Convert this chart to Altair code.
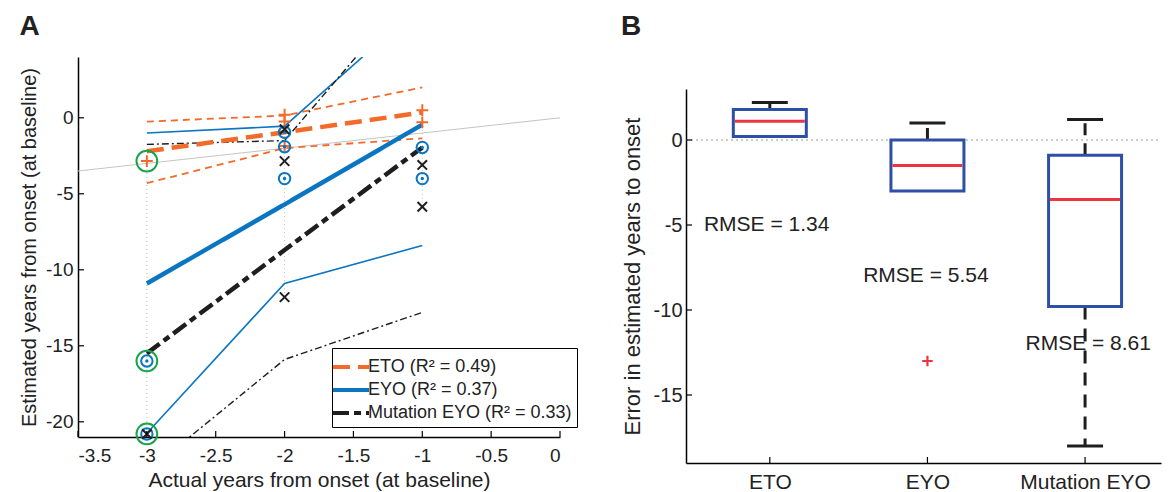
import altair as alt
import pandas as pd

FONT = "Liberation Sans"
ORANGE = "#F26B2A"
BLUE = "#0A76C2"
BLACK = "#1E1E1E"
GREEN = "#1BA34A"
BOX_BLUE = "#2D4FA5"
MED_RED = "#EE3340"
GRAY = "#C4C4C4"
TEXT = "#222222"

# ---------------- Panel A data ----------------
years = [-3, -2, -1]
eto_fit = [-2.2, -0.95, 0.35]
eto_hi = [-0.25, 0.15, 2.0]
eto_lo = [-4.3, -2.0, -1.35]
eyo_fit = [-10.9, -5.7, -0.45]
eyo_hi = [-1.0, -0.55, 7.5]
eyo_lo = [-20.75, -10.9, -8.4]
mut_fit = [-15.5, -8.7, -1.95]
mut_hi = [-1.75, -1.5, 9.1]
mut_lo = [-23.3, -15.9, -12.8]

eto_pt_x = [-3, -2, -2, -2, -1, -1]
eto_pt_y = [-2.85, 0.2, -0.25, -1.85, 0.5, -0.3]
eyo_pt_x = [-3, -3, -2, -2, -2, -1, -1]
eyo_pt_y = [-16.0, -20.8, -0.95, -1.9, -4.0, -1.95, -4.0]
mut_pt_x = [-3, -2, -2, -2, -1, -1]
mut_pt_y = [-20.8, -0.75, -2.85, -11.8, -3.1, -5.85]
hl_x = [-3, -3, -3]
hl_y = [-2.85, -16.0, -20.8]

identity = [-3.5, 0]

legend_labels = ["ETO (R\u00b2 = 0.49)", "EYO (R\u00b2 = 0.37)", "Mutation EYO (R\u00b2 = 0.33)"]
a_xticks = [-3.5, -3, -2.5, -2, -1.5, -1, -0.5, 0]
a_yticks = [-20, -15, -10, -5, 0]

# ---------------- Panel B data ----------------
b_cats = ["ETO", "EYO", "Mutation EYO"]
b_pos = [1, 2, 3]
b_q1 = [0.2, -3.0, -9.8]
b_q3 = [1.8, 0.0, -0.9]
b_med = [1.1, -1.5, -3.5]
b_whi = [2.2, 1.0, 1.2]
b_wlo = [0.2, -3.0, -18.0]
b_out_x = [2]
b_out_y = [-13.0]
rmse_text = ["RMSE = 1.34", "RMSE = 5.54", "RMSE = 8.61"]
rmse_x = [0.98, 1.99, 3.02]
rmse_y = [-5.0, -8.0, -12.0]
b_yticks = [-15, -10, -5, 0]

# ---------------- Panel A ----------------
WA, HA = 482, 380
xA_scale = alt.Scale(domain=[-3.5, 0], nice=False, zero=False)
yA_scale = alt.Scale(domain=[-21, 4], nice=False, zero=False)
axA_x = alt.Axis(values=a_xticks, labelExpr="'' + datum.value", labelFontSize=19,
                 labelPadding=9, titleFontSize=21, titlePadding=4)
axA_y = alt.Axis(values=a_yticks, labelExpr="'' + datum.value", labelFontSize=19,
                 labelPadding=5, titleFontSize=20, titlePadding=6)
TX_A = "Actual years from onset (at baseline)"
TY_A = "Estimated years from onset (at baseline)"


def XA(f):
    return alt.X(f, type="quantitative", scale=xA_scale, axis=axA_x, title=TX_A)


def YA(f):
    return alt.Y(f, type="quantitative", scale=yA_scale, axis=axA_y, title=TY_A)


def lines_df(series):
    rows = []
    for name, vals in series:
        for x, y in zip(years, vals):
            rows.append({"x": x, "y": y, "line": name})
    return pd.DataFrame(rows)


ident_df = pd.DataFrame({"x": identity, "y": identity})
ident = alt.Chart(ident_df).mark_line(color=GRAY, strokeWidth=1).encode(x=XA("x"), y=YA("y"))

all_pts = pd.DataFrame({"x": eto_pt_x + eyo_pt_x + mut_pt_x,
                        "y": eto_pt_y + eyo_pt_y + mut_pt_y})
span = all_pts.groupby("x")["y"].agg(["min", "max"]).reset_index()
guides = alt.Chart(span).mark_rule(color="#BBBBBB", strokeWidth=1, strokeDash=[1, 3]).encode(
    x=XA("x"), y=YA("min"), y2="max")

thin_eto = alt.Chart(lines_df([("hi", eto_hi), ("lo", eto_lo)])).mark_line(
    color=ORANGE, strokeWidth=1.8, strokeDash=[7, 5], clip=True).encode(
    x=XA("x"), y=YA("y"), detail="line:N")
thin_eyo = alt.Chart(lines_df([("hi", eyo_hi), ("lo", eyo_lo)])).mark_line(
    color=BLUE, strokeWidth=1.6, clip=True).encode(x=XA("x"), y=YA("y"), detail="line:N")
thin_mut = alt.Chart(lines_df([("hi", mut_hi), ("lo", mut_lo)])).mark_line(
    color=BLACK, strokeWidth=1.4, strokeDash=[7, 3, 2, 3], clip=True).encode(
    x=XA("x"), y=YA("y"), detail="line:N")

fit_df = lines_df([(legend_labels[0], eto_fit), (legend_labels[1], eyo_fit),
                   (legend_labels[2], mut_fit)])
leg = alt.Legend(title=None, orient="none", legendX=254, legendY=291,
                 strokeColor="black", fillColor="white", padding=5,
                 symbolType="M-1.5,0H1.5", symbolSize=576, symbolStrokeWidth=4,
                 labelFontSize=18, labelFont=FONT, labelColor=TEXT, labelLimit=0,
                 rowPadding=0, labelOffset=3)
fits = alt.Chart(fit_df).mark_line(strokeWidth=4.5, clip=True).encode(
    x=XA("x"), y=YA("y"),
    color=alt.Color("line:N", scale=alt.Scale(domain=legend_labels, range=[ORANGE, BLUE, BLACK]),
                    legend=leg),
    strokeDash=alt.StrokeDash("line:N", scale=alt.Scale(domain=legend_labels,
                                                         range=[[17, 8], [1, 0], [16, 5, 7, 5]]),
                              legend=leg),
)

PLUS = "M-1,0H1M0,-1V1"
CROSS = "M-1,-1L1,1M-1,1L1,-1"
eto_m = alt.Chart(pd.DataFrame({"x": eto_pt_x, "y": eto_pt_y})).mark_point(
    shape=PLUS, filled=False, color=ORANGE, strokeWidth=2, size=140, opacity=1).encode(
    x=XA("x"), y=YA("y"))
eyo_df = pd.DataFrame({"x": eyo_pt_x, "y": eyo_pt_y})
eyo_m = alt.Chart(eyo_df).mark_point(
    shape="circle", filled=False, color=BLUE, strokeWidth=2, size=130, opacity=1).encode(
    x=XA("x"), y=YA("y"))
eyo_d = alt.Chart(eyo_df).mark_point(
    shape="circle", filled=True, color=BLUE, size=12, opacity=1).encode(x=XA("x"), y=YA("y"))
mut_m = alt.Chart(pd.DataFrame({"x": mut_pt_x, "y": mut_pt_y})).mark_point(
    shape=CROSS, filled=False, color=BLACK, strokeWidth=2, size=90, opacity=1).encode(
    x=XA("x"), y=YA("y"))
hl_m = alt.Chart(pd.DataFrame({"x": hl_x, "y": hl_y})).mark_point(
    shape="circle", filled=False, color=GREEN, strokeWidth=2, size=430, opacity=1).encode(
    x=XA("x"), y=YA("y"))

tick_xa = alt.Chart(pd.DataFrame({"t": a_xticks})).mark_rule(color="black", strokeWidth=1.2).encode(
    x=XA("t"), y=alt.value(HA), y2=alt.value(HA - 6))
tick_ya = alt.Chart(pd.DataFrame({"t": a_yticks})).mark_rule(color="black", strokeWidth=1.2).encode(
    y=YA("t"), x=alt.value(0), x2=alt.value(6))

panelA = alt.layer(ident, guides, thin_eto, thin_eyo, thin_mut, fits, eto_m, eyo_m, eyo_d,
                   mut_m, hl_m, tick_xa, tick_ya).properties(
    width=WA, height=HA,
    title=alt.TitleParams("A", anchor="start", fontSize=28, fontWeight="bold", font=FONT,
                          color=TEXT, offset=16))

# ---------------- Panel B ----------------
WB, HB = 475, 374
xB_scale = alt.Scale(domain=[0.5, 3.45], nice=False, zero=False)
yB_scale = alt.Scale(domain=[-19, 3], nice=False, zero=False)
cat_expr = "[" + ",".join("'" + c + "'" for c in b_cats) + "][datum.value - 1]"
axB_x = alt.Axis(values=b_pos, labelExpr=cat_expr, labelFontSize=21, labelPadding=8)
axB_y = alt.Axis(values=b_yticks, labelExpr="'' + datum.value", labelFontSize=20,
                 labelPadding=4, titleFontSize=22, titlePadding=9)
TY_B = "Error in estimated years to onset"


def XB(f):
    return alt.X(f, type="quantitative", scale=xB_scale, axis=axB_x, title=None)


def YB(f):
    return alt.Y(f, type="quantitative", scale=yB_scale, axis=axB_y, title=TY_B)


box_df = pd.DataFrame({"pos": b_pos, "q1": b_q1, "q3": b_q3, "med": b_med,
                       "whi": b_whi, "wlo": b_wlo})
low_df = box_df[box_df["wlo"] < box_df["q1"]]

zero = alt.Chart(pd.DataFrame({"z": [0]})).mark_rule(
    color="#999999", strokeWidth=1.2, strokeDash=[2, 3]).encode(
    y=YB("z"), x=alt.value(0), x2=alt.value(WB))
wh_up = alt.Chart(box_df).mark_rule(color=BLACK, strokeWidth=3, strokeDash=[12, 8]).encode(
    x=XB("pos"), y=YB("q3"), y2="whi")
wh_lo = alt.Chart(low_df).mark_rule(color=BLACK, strokeWidth=3, strokeDash=[13, 9]).encode(
    x=XB("pos"), y=YB("q1"), y2="wlo")
cap_up = alt.Chart(box_df).mark_tick(orient="horizontal", size=36, thickness=3, color=BLACK,
                                     opacity=1).encode(x=XB("pos"), y=YB("whi"))
cap_lo = alt.Chart(low_df).mark_tick(orient="horizontal", size=36, thickness=3, color=BLACK,
                                     opacity=1).encode(x=XB("pos"), y=YB("wlo"))
boxes = alt.Chart(box_df).mark_bar(size=73, fill="white", stroke=BOX_BLUE, strokeWidth=3).encode(
    x=XB("pos"), y=YB("q1"), y2="q3")
meds = alt.Chart(box_df).mark_tick(orient="horizontal", size=70, thickness=3, color=MED_RED,
                                   opacity=1).encode(x=XB("pos"), y=YB("med"))
outl = alt.Chart(pd.DataFrame({"x": b_out_x, "y": b_out_y})).mark_point(
    shape=PLUS, filled=False, color=MED_RED, strokeWidth=2.2, size=110, opacity=1).encode(
    x=XB("x"), y=YB("y"))
rmse = alt.Chart(pd.DataFrame({"x": rmse_x, "y": rmse_y, "t": rmse_text})).mark_text(
    fontSize=21, font=FONT, color=TEXT, align="center", baseline="middle").encode(
    x=XB("x"), y=YB("y"), text="t:N")
tick_xb = alt.Chart(pd.DataFrame({"t": b_pos})).mark_rule(color="black", strokeWidth=1.2).encode(
    x=XB("t"), y=alt.value(HB), y2=alt.value(HB - 6))
tick_yb = alt.Chart(pd.DataFrame({"t": b_yticks})).mark_rule(color="black", strokeWidth=1.2).encode(
    y=YB("t"), x=alt.value(0), x2=alt.value(6))

plotB = alt.layer(zero, wh_up, wh_lo, boxes, cap_up, cap_lo, meds, outl, rmse,
                  tick_xb, tick_yb).properties(width=WB, height=HB)

# empty spacer that pushes panel B's plot area below panel A's top
spacer = alt.Chart(pd.DataFrame({"s": [0]})).mark_point(opacity=0).properties(width=WB, height=32)

panelB = alt.vconcat(spacer, plotB, spacing=0).properties(
    title=alt.TitleParams("B", anchor="start", fontSize=28, fontWeight="bold", font=FONT,
                          color=TEXT, offset=16))

chart = alt.hconcat(panelA, panelB, spacing=59).properties(
    padding={"left": 11, "top": 5, "right": 0, "bottom": 0}
).configure_view(stroke=None).configure_axis(
    labelFont=FONT, titleFont=FONT, labelColor=TEXT, titleColor=TEXT,
    titleFontWeight="normal", domainColor="black", domainWidth=1.5, grid=False, ticks=False
)

chart.save("out.html", embed_options={"renderer": "svg", "actions": False})
